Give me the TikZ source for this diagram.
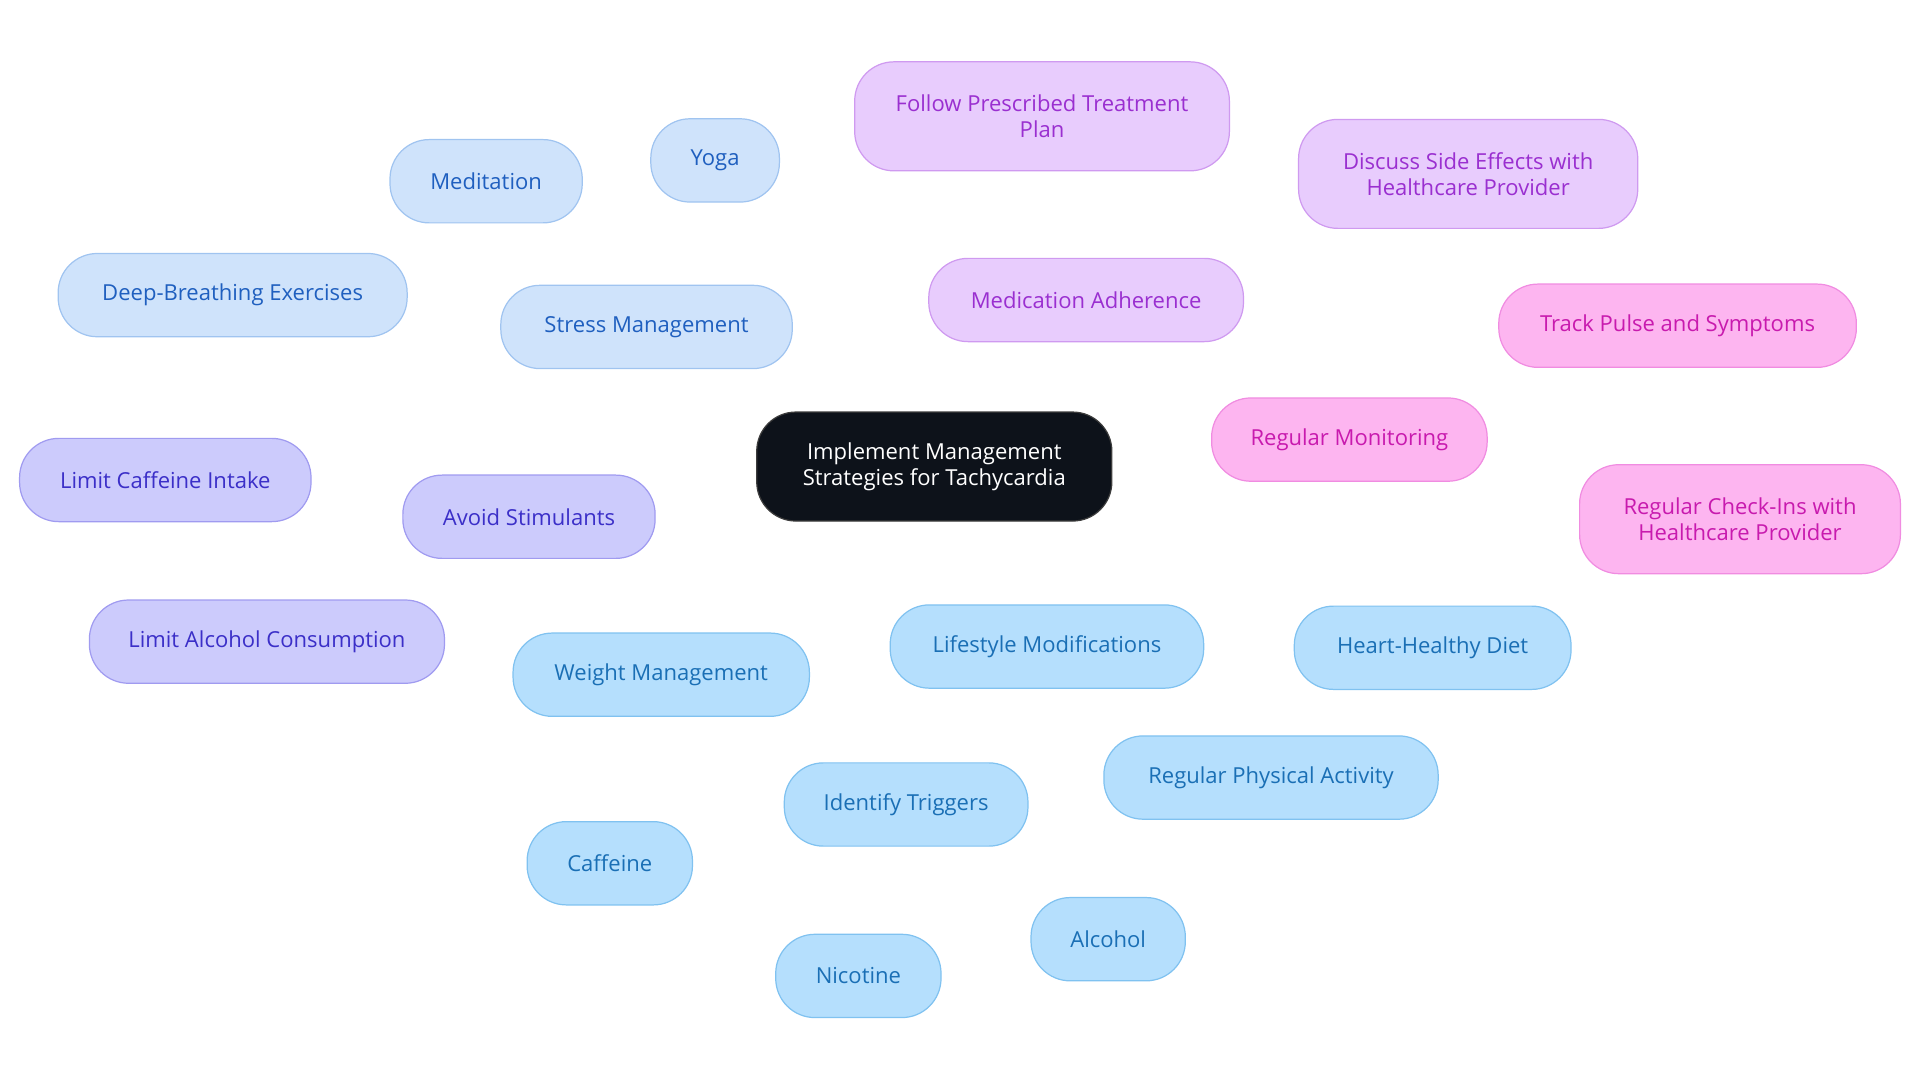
\documentclass[tikz,border=0pt]{standalone}
\usepackage{fontspec}
\setmainfont{Open Sans}
\begin{document}
\begin{tikzpicture}[x=0.5pt,y=-0.5pt,
 base/.style={rounded corners=16pt,minimum height=34pt,align=center,font=\fontsize{9pt}{10.5pt}\selectfont,line width=0.5pt,inner sep=0pt},
 sm/.style={base,fill={rgb,255:red,207;green,227;blue,251},draw={rgb,255:red,160;green,196;blue,240},text={rgb,255:red,31;green,95;blue,191}},
 ma/.style={base,fill={rgb,255:red,232;green,204;blue,253},draw={rgb,255:red,207;green,154;blue,240},text={rgb,255:red,154;green,47;blue,208}},
 rm/.style={base,fill={rgb,255:red,253;green,181;blue,240},draw={rgb,255:red,240;green,140;blue,225},text={rgb,255:red,200;green,26;blue,174}},
 as/.style={base,fill={rgb,255:red,204;green,203;blue,252},draw={rgb,255:red,160;green,155;blue,240},text={rgb,255:red,59;green,47;blue,200}},
 lm/.style={base,fill={rgb,255:red,181;green,223;blue,253},draw={rgb,255:red,128;green,194;blue,240},text={rgb,255:red,26;green,111;blue,181}},
 e/.style={line width=1.2pt}]
\useasboundingbox (0,0) rectangle (1568,884);
\node[base,fill={rgb,255:red,13;green,18;blue,26},draw={rgb,255:red,60;green,60;blue,60},text=white,minimum width=145pt,minimum height=44.5pt] (c) at (763,381) {Implement Management\\Strategies for Tachycardia};
\node[sm,minimum width=119pt] (s) at (528,267) {Stress Management};
\node[sm,minimum width=78.5pt] (s1) at (397,148) {Meditation};
\node[sm,minimum width=52.5pt] (s2) at (584,131) {Yoga};
\node[sm,minimum width=142.5pt] (s3) at (190,241) {Deep-Breathing Exercises};
\node[ma,minimum width=128.5pt] (m) at (887,245) {Medication Adherence};
\node[ma,minimum width=153pt,minimum height=44.5pt] (m1) at (851,95) {Follow Prescribed Treatment\\Plan};
\node[ma,minimum width=138.5pt,minimum height=44.5pt] (m2) at (1199,142) {Discuss Side Effects with\\Healthcare Provider};
\node[rm,minimum width=112.5pt] (r) at (1102,359) {Regular Monitoring};
\node[rm,minimum width=146pt] (r1) at (1370,266) {Track Pulse and Symptoms};
\node[rm,minimum width=131pt,minimum height=44.5pt] (r2) at (1421,424) {Regular Check-Ins with\\Healthcare Provider};
\node[as,minimum width=103pt] (a) at (432,422) {Avoid Stimulants};
\node[as,minimum width=119pt] (a1) at (135,392) {Limit Caffeine Intake};
\node[as,minimum width=145pt] (a2) at (218,524) {Limit Alcohol Consumption};
\node[lm,minimum width=128pt] (l) at (855,528) {Lifestyle Modifications};
\node[lm,minimum width=121pt] (l1) at (540,551) {Weight Management};
\node[lm,minimum width=113pt] (l2) at (1170,529) {Heart-Healthy Diet};
\node[lm,minimum width=136.5pt] (l3) at (1038,635) {Regular Physical Activity};
\node[lm,minimum width=99.5pt] (t) at (740,657) {Identify Triggers};
\node[lm,minimum width=67.5pt] (t1) at (498,705) {Caffeine};
\node[lm,minimum width=67.5pt] (t2) at (701,797) {Nicotine};
\node[lm,minimum width=63pt] (t3) at (905,767) {Alcohol};
\begin{scope}[on background layer/.style={}]
\end{scope}
\begin{pgfinterruptboundingbox}\end{pgfinterruptboundingbox}
\tikzset{}
\end{tikzpicture}
\end{document}
